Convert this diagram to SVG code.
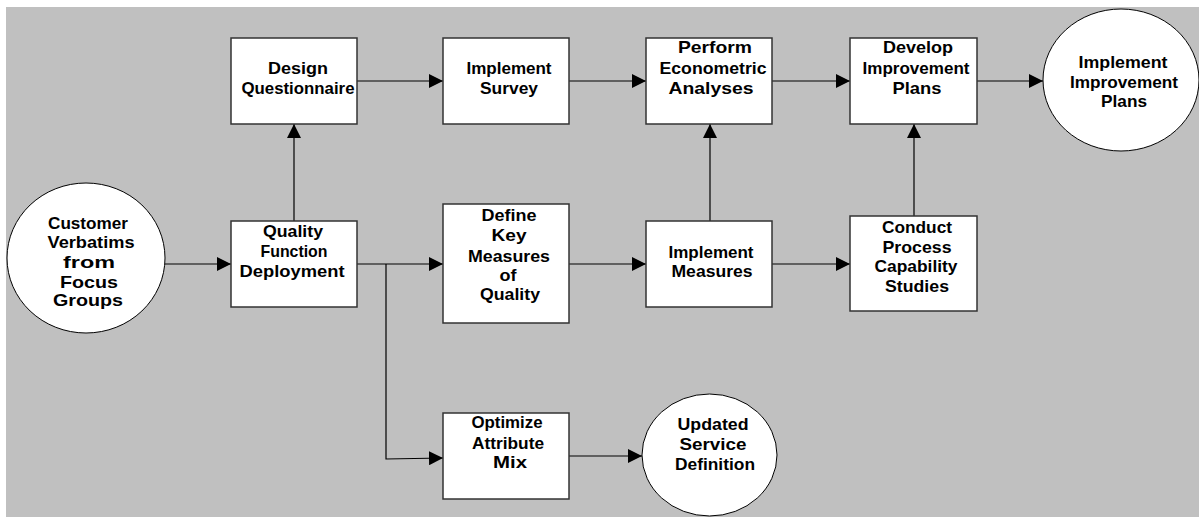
<svg xmlns="http://www.w3.org/2000/svg" width="1199" height="517" viewBox="0 0 1199 517">
<style>
.box{fill:#fff;stroke:#333;stroke-width:1.5}
.oval{fill:#fff;stroke:#000;stroke-width:1}
.lbl{font-family:"Liberation Sans",Arial,sans-serif;font-weight:bold;font-size:17px;fill:#000;text-anchor:middle}
.con{fill:none;stroke:#000;stroke-width:1.2}
</style>
<defs>
<marker id="ah" markerUnits="userSpaceOnUse" markerWidth="14" markerHeight="14" refX="14" refY="7" orient="auto">
<path d="M0,0 L14,7 L0,14 Z" fill="#000"/>
</marker>
</defs>
<rect x="6" y="7" width="1193" height="510" fill="#c0c0c0"/>
<g id="connectors">
<line class="con" x1="165" y1="264" x2="231" y2="264" marker-end="url(#ah)"/>
<line class="con" x1="294" y1="221" x2="294" y2="124" marker-end="url(#ah)"/>
<line class="con" x1="357" y1="81" x2="443" y2="81" marker-end="url(#ah)"/>
<line class="con" x1="569" y1="81" x2="646" y2="81" marker-end="url(#ah)"/>
<line class="con" x1="772" y1="81" x2="850" y2="81" marker-end="url(#ah)"/>
<line class="con" x1="977" y1="81" x2="1043" y2="81" marker-end="url(#ah)"/>
<line class="con" x1="357" y1="264" x2="443" y2="264" marker-end="url(#ah)"/>
<polyline class="con" points="386,264 386,459 443,458" marker-end="url(#ah)"/>
<line class="con" x1="569" y1="264" x2="646" y2="264" marker-end="url(#ah)"/>
<line class="con" x1="772" y1="264" x2="850" y2="264" marker-end="url(#ah)"/>
<line class="con" x1="710" y1="221" x2="710" y2="124" marker-end="url(#ah)"/>
<line class="con" x1="914" y1="216" x2="914" y2="124" marker-end="url(#ah)"/>
<line class="con" x1="569" y1="456" x2="642" y2="456" marker-end="url(#ah)"/>
</g>
<g id="customer">
<ellipse class="oval" cx="86" cy="258" rx="79" ry="75"/>
<text class="lbl" x="88" y="229" textLength="80" lengthAdjust="spacingAndGlyphs">Customer</text>
<text class="lbl" x="91" y="248" textLength="87" lengthAdjust="spacingAndGlyphs">Verbatims</text>
<text class="lbl" x="89" y="268" textLength="52" lengthAdjust="spacingAndGlyphs">from</text>
<text class="lbl" x="89" y="288" textLength="58" lengthAdjust="spacingAndGlyphs">Focus</text>
<text class="lbl" x="88" y="306" textLength="70" lengthAdjust="spacingAndGlyphs">Groups</text>
</g>
<g id="qfd">
<rect class="box" x="231" y="221" width="126" height="86"/>
<text class="lbl" x="293" y="237" textLength="60" lengthAdjust="spacingAndGlyphs">Quality</text>
<text class="lbl" x="294" y="257" textLength="67" lengthAdjust="spacingAndGlyphs">Function</text>
<text class="lbl" x="292" y="277" textLength="105" lengthAdjust="spacingAndGlyphs">Deployment</text>
</g>
<g id="design">
<rect class="box" x="231" y="38" width="126" height="86"/>
<text class="lbl" x="298" y="74" textLength="60" lengthAdjust="spacingAndGlyphs">Design</text>
<text class="lbl" x="298" y="94" textLength="113" lengthAdjust="spacingAndGlyphs">Questionnaire</text>
</g>
<g id="survey">
<rect class="box" x="443" y="38" width="126" height="86"/>
<text class="lbl" x="509" y="74" textLength="85" lengthAdjust="spacingAndGlyphs">Implement</text>
<text class="lbl" x="509" y="94" textLength="58" lengthAdjust="spacingAndGlyphs">Survey</text>
</g>
<g id="econometric">
<rect class="box" x="646" y="38" width="126" height="86"/>
<text class="lbl" x="715" y="53" textLength="74" lengthAdjust="spacingAndGlyphs">Perform</text>
<text class="lbl" x="713" y="74" textLength="107" lengthAdjust="spacingAndGlyphs">Econometric</text>
<text class="lbl" x="711" y="94" textLength="85" lengthAdjust="spacingAndGlyphs">Analyses</text>
</g>
<g id="develop">
<rect class="box" x="850" y="38" width="127" height="86"/>
<text class="lbl" x="918" y="53" textLength="70" lengthAdjust="spacingAndGlyphs">Develop</text>
<text class="lbl" x="916" y="74" textLength="107" lengthAdjust="spacingAndGlyphs">Improvement</text>
<text class="lbl" x="917" y="94" textLength="49" lengthAdjust="spacingAndGlyphs">Plans</text>
</g>
<g id="implement-plans">
<ellipse class="oval" cx="1121" cy="80" rx="78" ry="71"/>
<text class="lbl" x="1123" y="68" textLength="89" lengthAdjust="spacingAndGlyphs">Implement</text>
<text class="lbl" x="1124" y="88" textLength="108" lengthAdjust="spacingAndGlyphs">Improvement</text>
<text class="lbl" x="1124" y="107" textLength="46" lengthAdjust="spacingAndGlyphs">Plans</text>
</g>
<g id="define">
<rect class="box" x="443" y="204" width="126" height="119"/>
<text class="lbl" x="509" y="221" textLength="55" lengthAdjust="spacingAndGlyphs">Define</text>
<text class="lbl" x="509" y="241" textLength="35" lengthAdjust="spacingAndGlyphs">Key</text>
<text class="lbl" x="509" y="262" textLength="82" lengthAdjust="spacingAndGlyphs">Measures</text>
<text class="lbl" x="508" y="281" textLength="17" lengthAdjust="spacingAndGlyphs">of</text>
<text class="lbl" x="510" y="300" textLength="60" lengthAdjust="spacingAndGlyphs">Quality</text>
</g>
<g id="implement-measures">
<rect class="box" x="646" y="221" width="126" height="86"/>
<text class="lbl" x="711" y="258" textLength="85" lengthAdjust="spacingAndGlyphs">Implement</text>
<text class="lbl" x="712" y="277" textLength="81" lengthAdjust="spacingAndGlyphs">Measures</text>
</g>
<g id="conduct">
<rect class="box" x="850" y="216" width="127" height="95"/>
<text class="lbl" x="917" y="233" textLength="70" lengthAdjust="spacingAndGlyphs">Conduct</text>
<text class="lbl" x="917" y="253" textLength="69" lengthAdjust="spacingAndGlyphs">Process</text>
<text class="lbl" x="916" y="272" textLength="83" lengthAdjust="spacingAndGlyphs">Capability</text>
<text class="lbl" x="917" y="292" textLength="64" lengthAdjust="spacingAndGlyphs">Studies</text>
</g>
<g id="optimize">
<rect class="box" x="443" y="413" width="126" height="86"/>
<text class="lbl" x="507" y="428" textLength="71" lengthAdjust="spacingAndGlyphs">Optimize</text>
<text class="lbl" x="508" y="449" textLength="72" lengthAdjust="spacingAndGlyphs">Attribute</text>
<text class="lbl" x="510" y="468" textLength="34" lengthAdjust="spacingAndGlyphs">Mix</text>
</g>
<g id="updated">
<ellipse class="oval" cx="709.5" cy="455" rx="67.5" ry="61"/>
<text class="lbl" x="713" y="430" textLength="71" lengthAdjust="spacingAndGlyphs">Updated</text>
<text class="lbl" x="713" y="450" textLength="67" lengthAdjust="spacingAndGlyphs">Service</text>
<text class="lbl" x="715" y="470" textLength="80" lengthAdjust="spacingAndGlyphs">Definition</text>
</g>
</svg>
